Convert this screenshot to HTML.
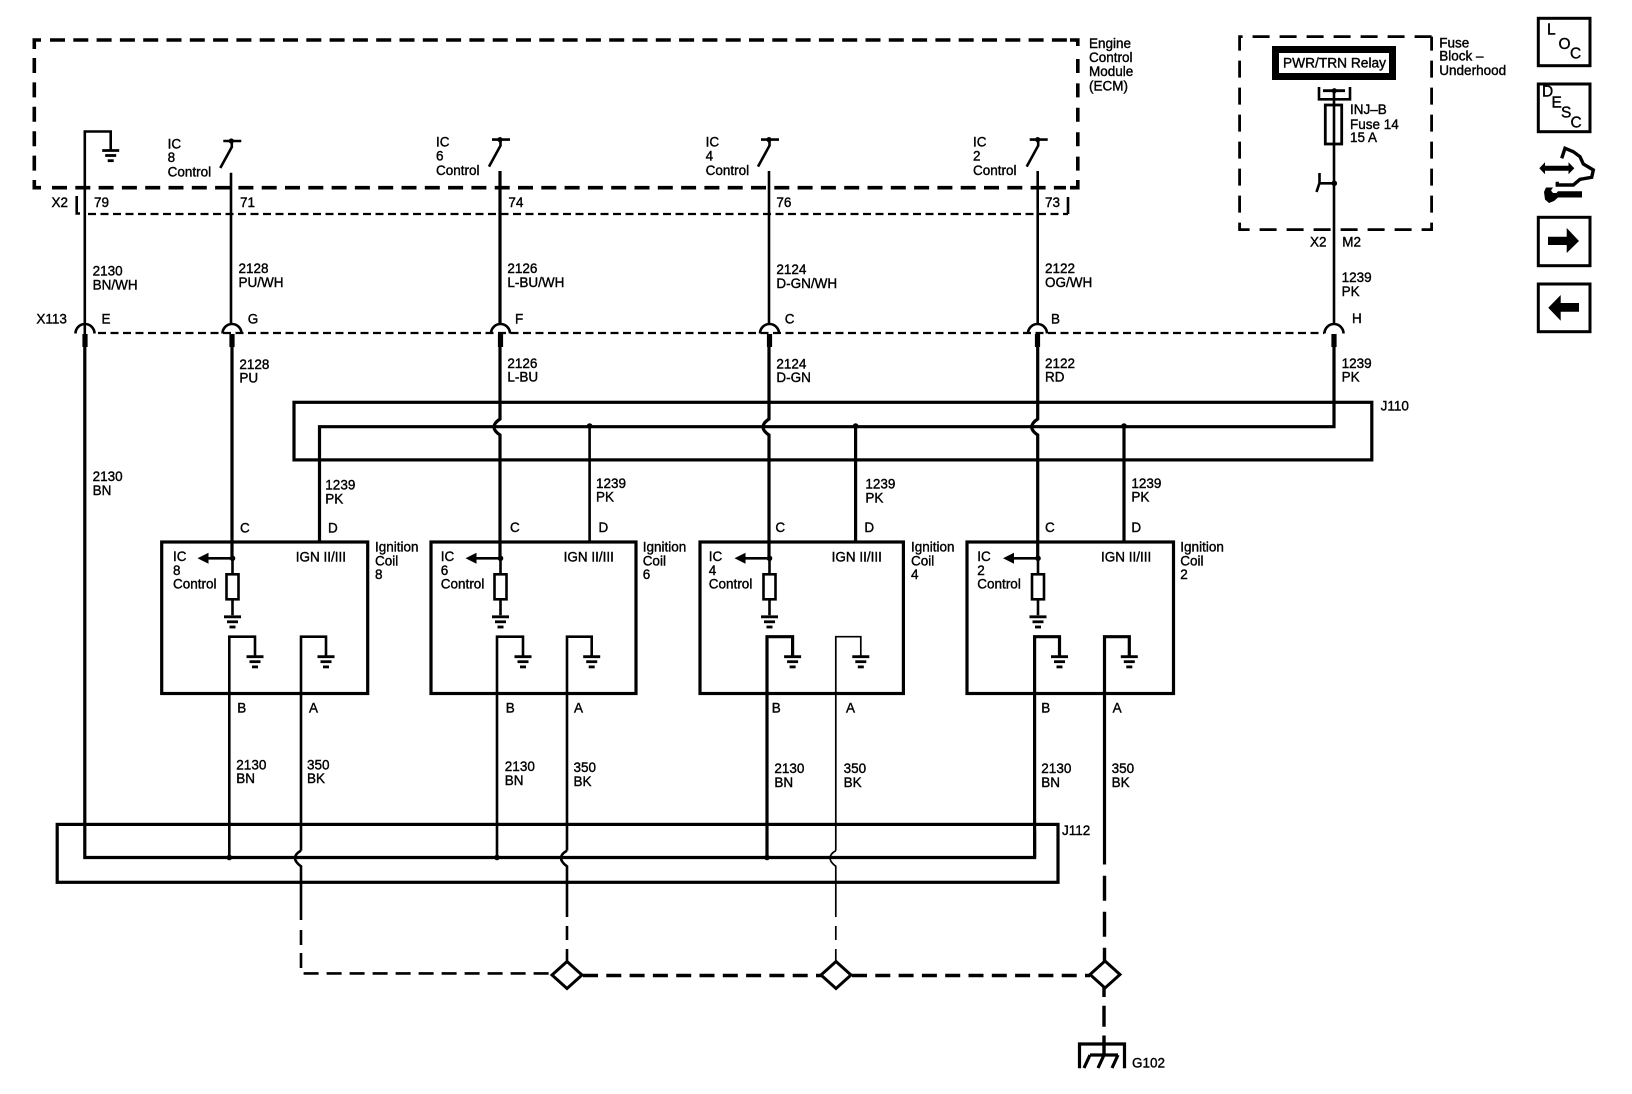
<!DOCTYPE html>
<html><head><meta charset="utf-8"><style>
html,body{margin:0;padding:0;background:#fff}
svg{display:block}
text{font-family:"Liberation Sans",sans-serif;font-size:13.5px;fill:#000;stroke:#000;stroke-width:.38}
.w{fill:none;stroke:#000;stroke-width:2.6}
.t{fill:none;stroke:#000;stroke-width:3.2}
.d{fill:none;stroke:#000;stroke-width:3.6;stroke-dasharray:15 8.3}
.x{fill:none;stroke:#000;stroke-width:2.2;stroke-dasharray:8 4.5}
.big{font-size:15.5px}
</style></head><body>
<svg width="1632" height="1094" viewBox="0 0 1632 1094" xmlns="http://www.w3.org/2000/svg">
<defs>
<g id="gnd"><path d="M-8.5 0H8.5" stroke="#000" stroke-width="2.8"/><path d="M-5.5 5H5.5" stroke="#000" stroke-width="2.8"/><path d="M-3 10.2H3" stroke="#000" stroke-width="2.8"/></g>
<g id="conn"><path d="M-9.5 10.5A9.5 9.5 0 0 1 9.5 10.5" fill="none" stroke="#000" stroke-width="2.6"/><rect x="-2.6" y="11" width="5.2" height="13" fill="#000"/></g>
<g id="sw"><path d="M-8 0H10" stroke="#000" stroke-width="2.6"/><circle cx="0" cy="0" r="2.6" fill="#000"/><path d="M0.5 0V6L-11 27" fill="none" stroke="#000" stroke-width="2.6"/></g>
<g id="ctl"><circle cx="0" cy="0" r="2.8" fill="#000"/><path d="M0 0H-24" stroke="#000" stroke-width="2.6"/><path d="M-24 -5.5V5.5L-35 0Z" fill="#000"/><path d="M0 0V16M0 41V57" stroke="#000" stroke-width="2.6"/><rect x="-6" y="16" width="12" height="25" fill="#fff" stroke="#000" stroke-width="2.6"/><use href="#gnd" y="58.5"/></g>
<path id="dia" d="M0 -13.5L15 0L0 13.5L-15 0Z" fill="#fff" stroke="#000" stroke-width="3"/>
</defs>

<!-- ECM -->
<path style="fill:none;stroke:#000;stroke-width:3.6" d="M34.3 49V40H41"/>
<path class="d" d="M50 40H1076"/>
<path style="fill:none;stroke:#000;stroke-width:3.6" d="M1070 40H1077.8V46"/>
<path class="d" style="stroke-dasharray:15 9.4" d="M34.3 58V176"/>
<path style="fill:none;stroke:#000;stroke-width:3.6" d="M34.3 180V187.7H41"/>
<path class="d" d="M52 187.7H1066"/>
<path style="fill:none;stroke:#000;stroke-width:3.6" d="M1070 187.7H1077.8V180"/>
<path class="d" style="stroke-dasharray:14 10.4" d="M1077.8 59V176"/>
<path class="w" d="M84.8 347V131.5H110.7V150"/>
<use href="#gnd" x="110.7" y="150.5"/>
<use href="#sw" x="231.3" y="141"/>
<use href="#sw" x="500" y="139.6"/>
<use href="#sw" x="769" y="139.6"/>
<use href="#sw" x="1037.7" y="139.6"/>
<text x="167.6" y="148.3">IC</text><text x="167.6" y="162">8</text><text x="167.6" y="176.5">Control</text>
<text x="436" y="146.5">IC</text><text x="436" y="160.5">6</text><text x="436" y="175">Control</text>
<text x="705.6" y="146.5">IC</text><text x="705.6" y="160.5">4</text><text x="705.6" y="175">Control</text>
<text x="973" y="146.5">IC</text><text x="973" y="160.5">2</text><text x="973" y="175">Control</text>
<text x="1089" y="48">Engine</text><text x="1089" y="62">Control</text><text x="1089" y="76">Module</text><text x="1089" y="90.5">(ECM)</text>

<!-- X2 -->
<path class="w" d="M76.7 196V213.5H80"/>
<path class="x" d="M88 214H1068"/>
<path class="w" d="M1068 197V214"/>
<text x="51.5" y="207">X2</text><text x="94" y="207">79</text><text x="240" y="207">71</text><text x="508.4" y="207">74</text><text x="776.4" y="207">76</text><text x="1045" y="207">73</text>

<!-- upper wires -->
<path class="w" d="M231 172.7V323"/><path class="t" d="M500 171V323"/><path class="w" d="M769 171V323"/><path class="w" d="M1037.7 171V323"/>
<text x="92.6" y="275.6">2130</text><text x="92.6" y="289.6">BN/WH</text>
<text x="238.5" y="272.8">2128</text><text x="238.5" y="286.8">PU/WH</text>
<text x="507.4" y="272.8">2126</text><text x="507.4" y="286.8">L-BU/WH</text>
<text x="776.4" y="274">2124</text><text x="776.4" y="288">D-GN/WH</text>
<text x="1045" y="272.8">2122</text><text x="1045" y="286.8">OG/WH</text>
<text x="1341.6" y="282">1239</text><text x="1341.6" y="296">PK</text>

<!-- X113 -->
<path class="x" d="M98 333H1324"/>
<use href="#conn" x="85" y="323"/><use href="#conn" x="232" y="323"/><use href="#conn" x="500.5" y="323"/><use href="#conn" x="769.5" y="323"/><use href="#conn" x="1037.5" y="323"/><use href="#conn" x="1334" y="323"/>
<text x="36.4" y="323.5">X113</text><text x="101.5" y="323.5">E</text><text x="247.7" y="323.5">G</text><text x="515" y="323.5">F</text><text x="784.8" y="323.5">C</text><text x="1051" y="323.5">B</text><text x="1352" y="323">H</text>
<text x="239.4" y="369">2128</text><text x="239.4" y="382.5">PU</text>
<text x="507.4" y="368">2126</text><text x="507.4" y="381.5">L-BU</text>
<text x="776.4" y="368.5">2124</text><text x="776.4" y="382">D-GN</text>
<text x="1045" y="368">2122</text><text x="1045" y="381.5">RD</text>
<text x="1341.6" y="368">1239</text><text x="1341.6" y="381.5">PK</text>

<!-- J110 -->
<rect x="294" y="402.3" width="1077.8" height="57.6" class="t"/>
<path class="t" d="M319.5 542V426.7H1334V347"/>
<path class="w" d="M589.6 426.7V542"/><path class="t" d="M855.6 426.7V542"/><path class="t" d="M1124 426.7V542"/>
<circle cx="589.6" cy="426" r="2.8"/><circle cx="855.6" cy="426" r="2.8"/><circle cx="1124" cy="426" r="2.8"/>
<path class="t" d="M232 347V558"/>
<path class="t" d="M500 347V419Q494 423 494 427Q494 431 500 435V558"/>
<path class="t" d="M769 347V419Q763 423 763 427Q763 431 769 435V558"/>
<path class="t" d="M1037.7 347V419Q1031.7 423 1031.7 427Q1031.7 431 1037.7 435V558"/>
<text x="1380.6" y="410.7">J110</text>
<text x="92.6" y="480.8">2130</text><text x="92.6" y="494.8">BN</text>
<text x="325.3" y="489.5">1239</text><text x="325.3" y="503.5">PK</text>
<text x="596" y="487.8">1239</text><text x="596" y="501.4">PK</text>
<text x="865.4" y="488.5">1239</text><text x="865.4" y="502.4">PK</text>
<text x="1131.4" y="487.8">1239</text><text x="1131.4" y="501.4">PK</text>

<!-- Coils -->
<rect x="161.7" y="542" width="206" height="151.5" class="t"/>
<rect x="431" y="542" width="205" height="151.5" class="t"/>
<rect x="700" y="542" width="203.4" height="151.5" class="t"/>
<rect x="967" y="542" width="206.5" height="151.5" class="t"/>
<use href="#ctl" x="232.5" y="558.3"/><use href="#ctl" x="500.5" y="558.3"/><use href="#ctl" x="769.5" y="558.3"/><use href="#ctl" x="1038" y="558.3"/>
<path class="w" d="M229.3 857V636.7H255V656"/><path class="w" d="M301 850.6V636.7H326V656"/>
<path class="w" d="M497 857V636.7H523V656"/><path class="w" d="M567 850.6V636.7H591.7V656"/>
<path class="t" d="M767 857V636.7H792.6V656"/><path style="fill:none;stroke:#000;stroke-width:1.7" d="M835.8 850.6V636.7H860.8V656"/>
<path class="t" d="M1034.6 857V636.7H1059.5V656"/><path class="t" d="M1104.5 864.5V636.7H1129.3V656"/>
<use href="#gnd" x="255" y="656.7"/><use href="#gnd" x="326" y="656.7"/><use href="#gnd" x="523" y="656.7"/><use href="#gnd" x="591.7" y="656.7"/><use href="#gnd" x="792.6" y="656.7"/><use href="#gnd" x="860.8" y="656.7"/><use href="#gnd" x="1059.5" y="656.7"/><use href="#gnd" x="1129.3" y="656.7"/>

<text x="240" y="532.7">C</text><text x="328" y="532.7">D</text>
<text x="510" y="532">C</text><text x="598.5" y="532">D</text>
<text x="775.4" y="532">C</text><text x="864.4" y="532">D</text>
<text x="1045" y="532">C</text><text x="1131.4" y="532">D</text>

<text x="173" y="561">IC</text><text x="173" y="575">8</text><text x="173" y="588.5">Control</text>
<text x="440.8" y="561">IC</text><text x="440.8" y="575">6</text><text x="440.8" y="588.5">Control</text>
<text x="708.8" y="561">IC</text><text x="708.8" y="575">4</text><text x="708.8" y="588.5">Control</text>
<text x="977.3" y="561">IC</text><text x="977.3" y="575">2</text><text x="977.3" y="588.5">Control</text>
<text x="295.7" y="561.7">IGN II/III</text><text x="563.6" y="561.7">IGN II/III</text><text x="831.6" y="561.7">IGN II/III</text><text x="1101" y="561.7">IGN II/III</text>
<text x="375" y="551.7">Ignition</text><text x="375" y="565.7">Coil</text><text x="375" y="579">8</text>
<text x="642.7" y="551.7">Ignition</text><text x="642.7" y="565.7">Coil</text><text x="642.7" y="579">6</text>
<text x="911" y="551.7">Ignition</text><text x="911" y="565.7">Coil</text><text x="911" y="579">4</text>
<text x="1180.3" y="551.7">Ignition</text><text x="1180.3" y="565.7">Coil</text><text x="1180.3" y="579">2</text>

<text x="237.3" y="712.3">B</text><text x="309" y="712.3">A</text>
<text x="505.8" y="712.5">B</text><text x="574" y="712.5">A</text>
<text x="771.8" y="712.5">B</text><text x="846" y="712.5">A</text>
<text x="1041.3" y="712.5">B</text><text x="1112.6" y="712.5">A</text>

<text x="236.3" y="769.5">2130</text><text x="236.3" y="783">BN</text>
<text x="307" y="769.5">350</text><text x="307" y="783">BK</text>
<text x="504.8" y="771">2130</text><text x="504.8" y="785">BN</text>
<text x="573.5" y="772">350</text><text x="573.5" y="786">BK</text>
<text x="774.4" y="773">2130</text><text x="774.4" y="787">BN</text>
<text x="843.6" y="773">350</text><text x="843.6" y="787">BK</text>
<text x="1041.3" y="773">2130</text><text x="1041.3" y="787">BN</text>
<text x="1111.6" y="773">350</text><text x="1111.6" y="787">BK</text>

<!-- J112 -->
<rect x="57.2" y="824.4" width="1000.8" height="57.9" class="t"/>
<path class="t" d="M84.8 347V857.5H1034.6V830"/>
<circle cx="229.3" cy="857.5" r="2.8"/><circle cx="497" cy="857.5" r="2.8"/><circle cx="767" cy="857.5" r="2.8"/>
<text x="1062" y="835">J112</text>

<!-- hops and lower dashed -->
<path class="w" d="M301 850.6Q295 854 295 858Q295 862 301 866.3V920"/>
<path class="w" d="M567 850.6Q561 854 561 858Q561 862 567 866.3V917"/>
<path style="fill:none;stroke:#000;stroke-width:1.7" d="M835.8 850.6Q830 854 830 858Q830 862 835.8 866.3V917"/>
<path style="fill:none;stroke:#000;stroke-width:2.6;stroke-dasharray:15 8" d="M301 930V973.4H552"/>
<path style="fill:none;stroke:#000;stroke-width:2.6;stroke-dasharray:14 9" d="M567 926V962"/>
<path style="fill:none;stroke:#000;stroke-width:1.7;stroke-dasharray:14 9" d="M835.8 926V962"/>
<path class="d" d="M583 975.5H822"/>
<path class="d" d="M852 975.5H1090"/>
<path style="fill:none;stroke:#000;stroke-width:3.4;stroke-dasharray:25 11" d="M1104.5 875.7V962"/>
<path class="t" style="stroke-width:3.4" d="M1104 987.3V997M1104 1005.8V1026.8M1104 1035.5V1055"/>
<use href="#dia" x="567" y="975"/><use href="#dia" x="836" y="975"/><use href="#dia" x="1105" y="974.5"/>
<path class="t" d="M1079.5 1068.3V1044H1124.5V1068.3"/>
<path class="t" d="M1090 1055H1118M1090 1055L1084 1068M1104 1055L1098 1068M1118 1055L1112 1068"/>
<text x="1132" y="1067.3">G102</text>

<!-- Fuse block -->
<path class="d" style="stroke-width:2.8;stroke-dasharray:17 10" d="M1431.6 36.6H1239.6V229.6H1431.6V36.6"/>
<rect x="1275.5" y="49.5" width="117" height="27" fill="#fff" stroke="#000" stroke-width="7"/>
<text x="1283" y="67.7" textLength="103" lengthAdjust="spacingAndGlyphs">PWR/TRN Relay</text>
<path class="w" d="M1319 87V99.3H1350V87"/>
<path d="M1323 90.7H1345" stroke="#000" stroke-width="2.8"/>
<circle cx="1334.3" cy="90.7" r="2.6"/>
<rect x="1325.3" y="105" width="16.4" height="39" fill="#fff" stroke="#000" stroke-width="2.8"/>
<path class="w" d="M1334 90V323"/>
<circle cx="1334.3" cy="183.3" r="2.8"/>
<path class="w" d="M1334 183.3H1319M1319.5 173V183L1316.5 192"/>
<text x="1350" y="114">INJ–B</text><text x="1350" y="129">Fuse 14</text><text x="1350" y="142">15 A</text>
<text x="1439.3" y="47.3">Fuse</text><text x="1439.3" y="60.7">Block –</text><text x="1439.3" y="75">Underhood</text>
<text x="1310" y="246.7">X2</text><text x="1342.3" y="246.7">M2</text>

<!-- Side icons -->
<rect x="1538.3" y="18.3" width="51.7" height="47.4" fill="none" stroke="#000" stroke-width="3"/>
<text class="big" x="1547" y="34.3">L</text><text class="big" x="1558.5" y="49">O</text><text class="big" x="1570" y="58.3">C</text>
<rect x="1538.3" y="84" width="51.7" height="47.7" fill="none" stroke="#000" stroke-width="3"/>
<text class="big" x="1542" y="96.7">D</text><text class="big" x="1551.5" y="107.3">E</text><text class="big" x="1561" y="117.3">S</text><text class="big" x="1570.5" y="127.3">C</text>
<path d="M1561.7 158.3L1565 148.3L1573.3 151.7L1580 156.7L1583.3 164L1593.3 170L1591.7 177.3L1580 179.3L1573.3 185L1557.3 185V181.7" fill="none" stroke="#000" stroke-width="3.4"/>
<path d="M1539.3 168.3L1545 162.3V165.8H1568.5V162.3L1574.3 168.3L1568.5 174.3V170.8H1545V174.3Z" fill="#000"/>
<path d="M1546 187.5H1553L1551 190.5L1553 193H1556.5L1558 191.3H1582V197.5H1558L1554 201L1549 203L1545 199.5L1544 192Z" fill="#000"/>
<rect x="1538.3" y="217.3" width="51.7" height="48.4" fill="none" stroke="#000" stroke-width="3"/>
<path d="M1548 236.7H1566.7V228L1579 241L1566.7 253V245H1548Z" fill="#000"/>
<rect x="1538.3" y="284" width="51.7" height="47.7" fill="none" stroke="#000" stroke-width="3"/>
<path d="M1579 303H1560.7V295L1548.3 307.7L1560.7 320.7V311.7H1579Z" fill="#000"/>
</svg>
</body></html>
